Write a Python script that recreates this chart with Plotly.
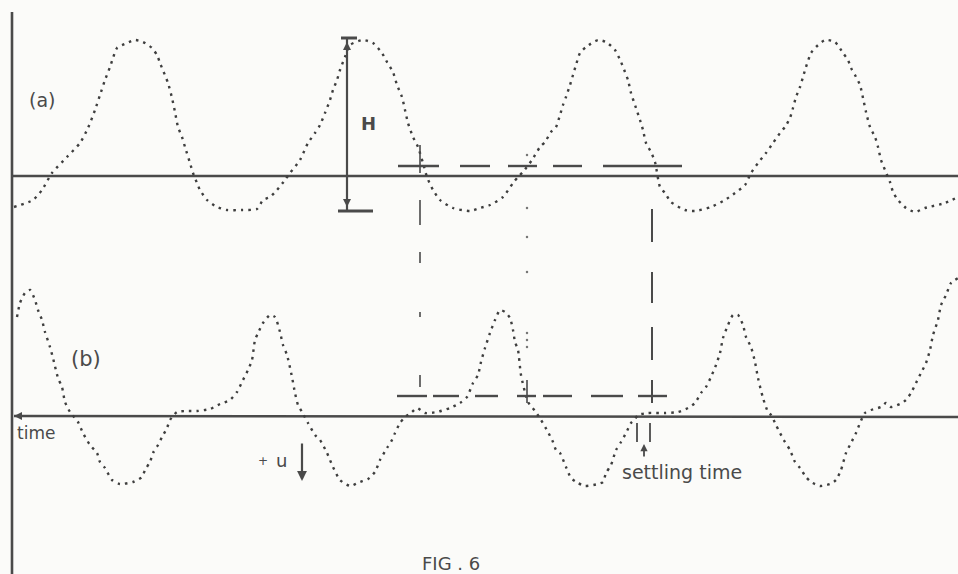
import plotly.graph_objects as go

# ---- data (time axis in figure units, signal values in figure units; y grows downward) ----
a_t = [14, 33, 42, 52, 67, 80, 88, 95, 100, 105, 110, 113, 117, 127, 135, 143, 152, 157, 160, 168,
       172, 175, 178, 182, 185, 190, 193, 197, 200, 207, 217, 227, 242, 257, 263, 270, 277, 285, 290,
       300, 308, 315, 320, 325, 330, 333, 337, 340, 345, 350, 363, 373, 382, 387, 393, 397, 402, 405,
       408, 413, 418, 423, 427, 433, 440, 453, 470, 480, 490, 503, 513, 518, 523, 532, 540, 545, 551,
       556, 560, 563, 566, 570, 573, 576, 580, 586, 598, 606, 615, 621, 625, 628, 631, 636, 640, 643,
       646, 651, 655, 660, 665, 671, 685, 695, 711, 725, 735, 745, 751, 758, 766, 773, 780, 785, 790,
       793, 796, 800, 803, 806, 811, 816, 825, 835, 843, 848, 851, 855, 860, 863, 866, 870, 875, 878,
       881, 885, 890, 893, 898, 906, 915, 925, 945, 958]
a_v = [207, 200, 190, 173, 157, 143, 128, 110, 95, 80, 67, 58, 48, 43, 40, 42, 48, 55, 63, 83,
       98, 112, 127, 137, 147, 163, 173, 183, 190, 200, 207, 210, 210, 209, 200, 197, 190, 180, 173,
       160, 143, 133, 125, 113, 100, 90, 80, 70, 57, 45, 40, 43, 53, 62, 72, 85, 97, 110,
       123, 137, 147, 163, 177, 190, 200, 208, 211, 208, 205, 197, 183, 177, 172, 160, 147, 142, 132,
       127, 115, 105, 97, 85, 75, 65, 53, 47, 40, 42, 50, 62, 72, 80, 93, 108, 120, 130,
       143, 152, 162, 187, 193, 202, 210, 211, 207, 200, 193, 185, 173, 163, 153, 143, 133, 127, 118,
       108, 97, 87, 77, 67, 53, 47, 40, 42, 53, 60, 68, 75, 85, 98, 112, 127, 137, 147,
       160, 170, 182, 192, 200, 208, 212, 208, 203, 197]

b_t = [17, 20, 25, 30, 35, 38, 42, 45, 50, 53, 58, 62, 65, 70, 78, 83, 90, 97, 100, 105, 112, 120,
       133, 142, 145, 150, 153, 158, 162, 167, 170, 177, 187, 197, 210, 220, 230, 237, 243, 248, 252,
       255, 258, 263, 270, 275, 280, 283, 287, 292, 295, 298, 302, 308, 315, 320, 327, 333, 340, 350,
       360, 368, 375, 380, 387, 392, 395, 400, 405, 412, 417, 425, 437, 450, 460, 467, 473, 478, 481,
       485, 490, 495, 500, 505, 510, 513, 515, 518, 521, 528, 535, 541, 548, 553, 556, 560, 566, 571,
       578, 585, 598, 603, 606, 611, 616, 621, 626, 631, 635, 638, 648, 665, 678, 688, 695, 701, 706,
       711, 716, 720, 723, 728, 733, 738, 743, 746, 751, 755, 758, 763, 768, 771, 776, 780, 785, 790,
       795, 800, 806, 811, 820, 830, 836, 841, 846, 851, 856, 860, 865, 871, 881, 886, 891, 900, 906,
       911, 916, 921, 926, 930, 933, 938, 941, 946, 951, 958]
b_v = [317, 303, 293, 290, 300, 310, 320, 332, 347, 358, 378, 387, 402, 412, 422, 433, 445, 453, 462,
       468, 480, 484, 482, 477, 470, 462, 453, 445, 437, 428, 420, 412, 411, 411, 409, 404, 400, 392, 380,
       370, 360, 340, 333, 323, 315, 317, 332, 345, 355, 377, 393, 405, 412, 423, 435, 440, 453, 467, 480,
       486, 482, 479, 472, 460, 448, 440, 433, 423, 417, 412, 408, 413, 412, 408, 403, 397, 383, 375, 362,
       348, 333, 320, 310, 312, 318, 330, 342, 350, 375, 402, 411, 420, 432, 442, 450, 453, 467, 478,
       483, 486, 484, 482, 473, 465, 450, 442, 433, 423, 419, 415, 413, 413, 412, 408, 403, 393, 387,
       377, 365, 353, 338, 325, 315, 315, 325, 337, 347, 362, 378, 398, 412, 415, 425, 433, 442, 450,
       462, 468, 477, 482, 486, 484, 480, 470, 453, 443, 433, 423, 413, 410, 407, 403, 407, 404, 400,
       393, 383, 373, 363, 350, 335, 320, 305, 295, 283, 278]

# reference / construction lines
axis_a_level = 176
axis_b_level = 416
time_axis_x = 12
upper_dash_y = 166
upper_dash_segs = [(398, 439), (460, 490), (508, 537), (553, 582), (603, 682)]
lower_dash_y = 396
lower_dash_segs = [(397, 427), (433, 459), (475, 498), (517, 536), (543, 572), (591, 623), (638, 667)]
left_vert_x = 420
left_vert_segs = [(145, 173), (200, 225), (252, 263), (312, 317), (375, 387)]
mid_vert_x = 527
mid_vert_dots = [155, 208, 237, 272, 333, 340, 347]
mid_vert_segs = [(380, 403)]
right_vert_x = 652
right_vert_segs = [(209, 242), (272, 303), (327, 360), (380, 403)]
settle_x = [637, 650]
settle_seg = (423, 442)
H_x = 347
H_top, H_bot = 38, 211

INK = "#4a4a4a"
fig = go.Figure()

def segs_trace(xs_pairs, fixed, horizontal, width=2.2, color=INK):
    xs, ys = [], []
    for a, b in xs_pairs:
        if horizontal:
            xs += [a, b, None]; ys += [fixed, fixed, None]
        else:
            xs += [fixed, fixed, None]; ys += [a, b, None]
    fig.add_trace(go.Scatter(x=xs, y=ys, mode="lines", line=dict(color=color, width=width),
                             hoverinfo="skip", showlegend=False))

# main axes
fig.add_trace(go.Scatter(x=[time_axis_x, time_axis_x], y=[12, 574], mode="lines",
                         line=dict(color=INK, width=2.6), showlegend=False))
fig.add_trace(go.Scatter(x=[time_axis_x, 958], y=[axis_a_level, axis_a_level], mode="lines",
                         line=dict(color=INK, width=2.6), showlegend=False))
fig.add_trace(go.Scatter(x=[time_axis_x + 2, 958], y=[axis_b_level, axis_b_level + 1], mode="lines",
                         line=dict(color=INK, width=2.6), showlegend=False))

# dotted recordings
for t, v in [(a_t, a_v), (b_t, b_v)]:
    fig.add_trace(go.Scatter(x=t, y=v, mode="lines",
                             line=dict(color="#3e3e3e", width=2.4, dash="2.5px,5px", shape="spline", smoothing=0.6),
                             showlegend=False))

# construction lines
segs_trace(upper_dash_segs, upper_dash_y, True, 2.4)
segs_trace(lower_dash_segs, lower_dash_y, True, 2.4)
segs_trace(left_vert_segs, left_vert_x, False, 1.6)
segs_trace(right_vert_segs, right_vert_x, False, 2.0)
segs_trace(mid_vert_segs, mid_vert_x, False, 1.6)
fig.add_trace(go.Scatter(x=[mid_vert_x] * len(mid_vert_dots), y=mid_vert_dots, mode="markers",
                         marker=dict(color="#777", size=2.5), showlegend=False))
for sx in settle_x:
    segs_trace([settle_seg], sx, False, 1.8)

# H marker
segs_trace([(H_top, H_bot)], H_x, False, 2.2)
segs_trace([(341, 357)], H_top, True, 3)
segs_trace([(338, 373)], H_bot, True, 3)

annotations = []
def arrow(x, y, ax, ay, w=2, size=1.0, head=2):
    annotations.append(dict(x=x, y=y, ax=ax, ay=ay, xref="x", yref="y", axref="x", ayref="y",
                            text="", showarrow=True, arrowhead=head, arrowsize=size,
                            arrowwidth=w, arrowcolor=INK))

arrow(H_x, H_top + 4, H_x, H_top + 14, 2, 0.8)
arrow(H_x, H_bot - 4, H_x, H_bot - 14, 2, 0.8)
arrow(time_axis_x + 2, axis_b_level, time_axis_x + 22, axis_b_level, 1.6, 1.0)
arrow(302, 481, 302, 442, 2.2, 0.9)
arrow(644, 444, 644, 458, 1.8, 0.8)

def label(txt, x, y, size, xanchor="center", bold=False):
    annotations.append(dict(x=x, y=y, xref="x", yref="y", text=("<b>%s</b>" % txt) if bold else txt,
                            showarrow=False, xanchor=xanchor, yanchor="middle",
                            font=dict(family="DejaVu Sans", size=size, color=INK)))

label("(a)", 42, 100, 19)
label("(b)", 86, 359, 21)
label("H", 368, 123, 18, bold=True)
label("time", 36, 433, 17)
label("+", 263, 461, 12)
label("u", 281, 460, 18)
label("settling time", 682, 472, 19)
label("FIG . 6", 451, 563, 18)

fig.update_layout(
    width=958, height=574, margin=dict(l=0, r=0, t=0, b=0),
    paper_bgcolor="#fbfbf9", plot_bgcolor="#fbfbf9",
    xaxis=dict(range=[0, 958], visible=False, fixedrange=True),
    yaxis=dict(range=[574, 0], visible=False, fixedrange=True),
    annotations=annotations, showlegend=False,
)
fig.write_html("out.html")
